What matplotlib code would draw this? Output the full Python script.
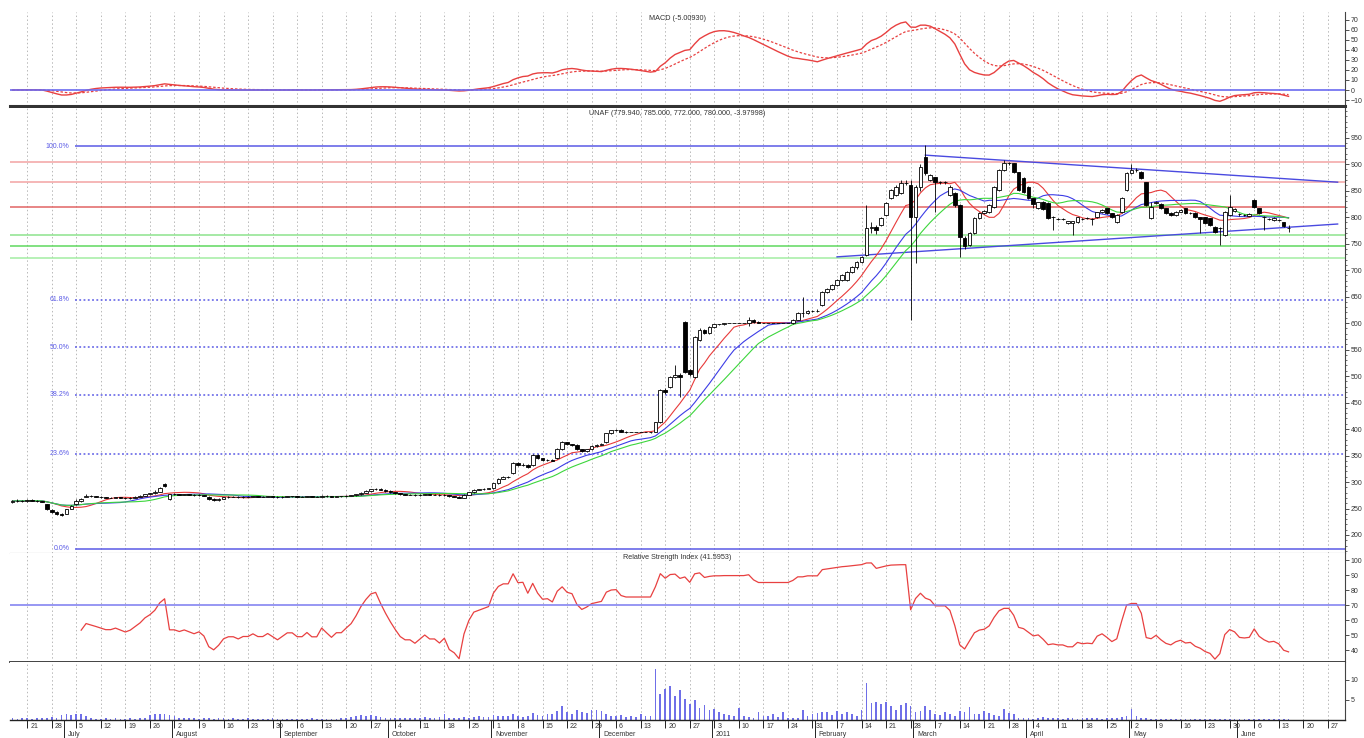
import numpy as np
import pandas as pd
import matplotlib
matplotlib.use("Agg")
import matplotlib.pyplot as plt
from matplotlib.transforms import blended_transform_factory
from matplotlib.ticker import MultipleLocator, FixedLocator

# ---------------- data ----------------
start_date = "2010-06-16"
n_axis_days = 272

opens = [262,265,265,264,266,265,264,258,248,244,
         240,240,250,258,264,272,274,273,272,271,
         270,270,271,270,269,270,272,274,277,279,
         282,296,268,277,277,276,277,276,275,276,
         272,268,266,268,271,272,272,271,272,272,
         273,272,272,273,272,271,272,273,273,272,
         272,273,272,272,274,273,272,273,273,274,
         275,277,280,283,286,287,285,283,281,279,
         277,276,276,275,276,277,276,276,275,276,
         273,272,270,276,281,285,286,287,288,298,
         306,310,317,336,332,333,332,351,345,341,
         342,345,362,375,371,370,362,358,362,368,
         370,375,392,398,399,395,394,394,394,394,
         394,394,413,474,479,498,502,602,511,498,
         568,587,581,592,598,598,600,600,600,600,
         600,606,602,600,600,600,600,600,600,600,
         606,619,619,623,623,634,658,665,672,681,
         681,696,705,715,728,779,781,785,804,836,
         842,845,864,860,800,857,913,870,875,866,
         866,842,845,823,760,747,770,798,808,809,
         819,851,889,902,902,885,874,857,836,817,
         828,826,800,797,797,789,789,790,797,798,
         797,800,809,817,807,790,809,851,883,889,
         885,866,798,826,825,817,808,804,810,817,
         807,808,800,800,798,781,779,766,804,812,
         806,804,803,832,817,801,797,794,794,790,779.94]
highs = [266,267,266,267,267,266,265,259,249,245,
         242,250,257,267,269,278,275,274,273,272,
         272,272,272,271,271,273,275,278,280,284,
         290,298,278,279,278,278,278,277,277,276,
         273,269,269,272,273,273,273,273,273,274,
         274,273,274,274,273,273,274,274,274,273,
         274,274,273,275,275,274,274,274,275,276,
         278,281,284,287,289,288,286,284,282,280,
         278,278,277,277,278,278,277,277,277,276,
         274,273,277,282,286,287,288,289,299,307,
         311,312,337,337,335,334,353,352,346,344,
         343,364,377,376,372,371,363,363,369,371,
         373,393,399,400,400,396,394,394,394,394,
         395,414,476,478,500,520,505,604,513,576,
         590,588,594,599,599,601,600,600,600,600,
         612,607,603,600,600,600,600,600,600,608,
         620,650,625,625,626,660,667,674,683,692,
         698,707,717,727,823,790,785,800,828,853,
         860,870,870,870,860,900,936,882,876,868,
         868,860,847,825,765,772,800,810,813,825,
         858,890,907,904,903,886,876,859,837,829,
         830,828,802,799,799,793,793,801,799,800,
         799,810,815,818,808,806,838,885,900,892,
         887,867,828,830,826,818,809,812,815,818,
         810,809,801,801,799,783,781,811,842,818,
         808,806,807,834,818,803,799,800,796,791,785]
lows = [261,263,263,263,264,263,262,248,241,238,
        236,239,249,257,263,271,272,271,269,269,
        269,269,269,268,268,269,271,273,276,278,
        281,291,266,275,275,275,275,274,274,273,
        266,264,265,267,270,271,270,270,271,271,
        271,271,271,271,270,270,271,272,271,271,
        271,271,271,271,272,271,271,272,272,273,
        274,276,279,282,284,284,282,280,278,276,
        275,275,274,274,275,275,275,274,274,272,
        271,269,270,275,280,284,285,286,287,297,
        305,308,316,330,331,327,331,344,340,340,
        339,344,360,369,368,360,356,357,361,367,
        369,374,391,396,394,393,394,394,394,394,
        393,394,412,466,478,497,460,505,500,497,
        566,579,580,591,596,597,600,600,600,600,
        594,601,600,600,600,600,600,600,600,599,
        605,612,617,620,621,633,656,663,670,679,
        680,694,703,713,726,770,768,783,802,834,
        840,843,860,606,713,850,880,868,809,862,
        862,840,820,725,740,745,768,796,805,807,
        817,849,887,898,883,849,845,834,818,815,
        813,796,775,795,795,787,766,789,795,796,
        785,799,808,806,799,789,808,850,881,886,
        872,821,796,824,815,806,802,803,809,805,
        805,798,770,787,783,770,747,764,803,810,
        803,802,802,817,805,775,795,793,792,781,772]
closes = [264,265,264,266,265,264,263,250,244,240,
          238,249,255,265,268,274,273,272,271,270,
          270,271,270,269,270,272,274,277,279,282,
          288,292,277,277,276,277,276,275,276,274,
          268,266,268,271,272,272,271,272,272,273,
          272,272,273,272,271,272,273,273,272,272,
          273,272,272,274,273,272,273,273,274,275,
          277,280,283,286,287,285,283,281,279,277,
          276,276,275,276,277,276,276,275,276,273,
          272,270,276,281,285,286,287,288,298,306,
          310,310,336,332,333,328,351,345,341,342,
          340,362,375,371,370,362,358,362,368,370,
          372,392,398,399,395,394,394,394,394,394,
          394,413,474,470,498,502,498,508,503,574,
          587,581,592,598,598,600,600,600,600,600,
          606,602,600,600,600,600,600,600,600,606,
          619,619,623,623,623,658,665,672,681,690,
          696,705,715,725,779,781,776,798,826,851,
          857,864,865,800,857,894,883,879,866,866,
          866,857,823,762,745,770,798,808,811,823,
          857,889,902,902,885,851,847,836,825,828,
          815,798,800,797,797,792,792,800,797,798,
          797,809,813,807,800,804,836,883,889,889,
          874,823,820,828,817,808,804,810,813,807,
          808,800,796,789,785,772,779,809,819,815,
          805,804,805,819,807,801,797,798,794,783,780]
volumes = [0.4,0.3,0.5,0.4,0.3,0.4,0.5,0.6,0.8,0.5,
           1.2,1.5,1.3,1.6,1.4,0.9,0.4,0.3,0.3,0.4,
           0.3,0.4,0.3,0.3,0.4,0.3,0.5,0.6,1.2,1.4,
           1.6,1.5,1.3,1.0,0.6,0.4,0.4,0.5,0.3,0.4,
           0.5,0.3,0.4,0.5,0.3,0.4,0.3,0.3,0.4,0.3,
           0.3,0.2,0.3,0.4,0.3,0.3,0.2,0.3,0.3,0.2,
           0.3,0.4,0.3,0.3,0.2,0.3,0.3,0.4,0.5,0.7,
           0.9,1.2,1.0,1.3,1.1,0.8,0.6,0.4,0.5,0.4,
           0.5,0.4,0.6,0.5,0.7,0.5,0.6,0.8,1.4,0.6,
           0.5,0.4,0.7,0.6,0.8,0.9,0.7,0.8,1.2,1.0,
           0.9,1.1,1.6,0.9,0.8,1.0,1.8,1.3,1.1,1.5,
           1.4,2.2,3.5,2.0,1.6,2.4,2.0,1.8,2.6,2.5,
           2.2,1.4,1.0,0.9,1.2,0.8,0.9,0.7,1.4,0.9,
           1.0,12.8,6.5,7.8,8.4,6.0,7.5,5.2,4.0,5.0,
           3.0,3.8,2.5,2.8,2.0,1.5,1.2,0.9,3.0,1.1,
           0.8,0.6,1.9,0.9,1.0,1.4,0.7,1.9,0.5,0.6,
           0.5,2.4,1.1,1.5,1.7,2.0,2.0,1.2,2.2,1.4,
           1.9,1.4,1.1,2.6,9.2,4.2,4.5,3.9,4.6,3.4,
           2.5,3.8,4.2,3.5,2.0,2.2,3.6,2.5,1.4,1.2,
           2.0,1.5,1.0,2.2,1.9,3.2,1.6,1.4,2.3,1.8,
           1.3,0.9,2.7,1.8,1.5,0.6,0.5,0.4,0.3,0.5,
           0.7,0.5,0.4,0.5,0.3,0.4,0.5,0.3,0.4,0.6,
           0.5,0.4,0.3,0.5,0.4,0.6,0.8,1.0,2.8,0.9,
           0.6,0.4,0.3,0.2,0.3,0.2,0.2,0.3,0.2,0.2,
           0.3,0.2,0.3,0.2,0.2,0.3,0.2,0.2,0.3,0.2,
           0.2,0.3,0.2,0.3,0.2,0.2,0.3,0.2,0.2,0.3,0.2]

fib_low, fib_high = 174, 934
fib_ratios = [0.0, 0.236, 0.382, 0.5, 0.618, 1.0]
fib_labels = ["0.0%", "23.6%", "38.2%", "50.0%", "61.8%", "100.0%"]
resistance_levels = [904, 866, 819]
support_levels = [766, 745, 723]
upper_trend_idx, upper_trend_px = [186, 270], [917, 866]
lower_trend_idx, lower_trend_px = [168, 270], [725, 787]
ma_periods = [9, 16, 21]
rsi_period = 14
month_names = {1: "2011", 2: "February", 3: "March", 4: "April", 5: "May", 6: "June",
               7: "July", 8: "August", 9: "September", 10: "October",
               11: "November", 12: "December"}
price_ticks = list(range(200, 1000, 50))
rsi_ticks = [40, 50, 60, 70, 80, 90, 100]
vol_ticks = [5, 10]
rsi_level = 70

macd_title = "MACD (-5.00930)"
price_title = "UNAF (779.940, 785.000, 772.000, 780.000, -3.97998)"
rsi_title = "Relative Strength Index (41.5953)"

# ---------------- derived ----------------
o = np.array(opens, float); h = np.array(highs, float)
l = np.array(lows, float); c = np.array(closes, float)
v = np.array(volumes, float)
n = len(c)
x = np.arange(n)
s = pd.Series(c)
mas = [s.rolling(p, min_periods=1).mean().values for p in ma_periods]
ema12 = s.ewm(span=12, adjust=False).mean()
ema26 = s.ewm(span=26, adjust=False).mean()
macd = (ema12 - ema26).values
signal = pd.Series(macd).ewm(span=9, adjust=False).mean().values

# Wilder RSI, seeded with a simple average
chg = np.diff(c)
gains = np.clip(chg, 0, None)
losses = np.clip(-chg, 0, None)
rsi = np.full(n, np.nan)
ag = gains[:rsi_period].mean()
al = losses[:rsi_period].mean()
rsi[rsi_period] = 100 - 100 / (1 + ag / al) if al > 0 else 100
for k in range(rsi_period, len(chg)):
    ag = (ag * (rsi_period - 1) + gains[k]) / rsi_period
    al = (al * (rsi_period - 1) + losses[k]) / rsi_period
    rsi[k + 1] = 100 - 100 / (1 + ag / al) if al > 0 else 100

dates = pd.bdate_range(start_date, periods=n_axis_days)
mondays = [i for i, dt in enumerate(dates) if dt.weekday() == 0]
month_starts = [i for i in range(1, n_axis_days - 4) if dates[i].month != dates[i - 1].month]

# ---------------- figure ----------------
plt.rcParams['font.family'] = ['Liberation Sans', 'DejaVu Sans']
W, H = 1364, 738
fig = plt.figure(figsize=(W / 100, H / 100), dpi=100)
fig.patch.set_facecolor('white')

def ax_at(top, bottom):
    return fig.add_axes([10 / W, 1 - bottom / H, 1335 / W, (bottom - top) / H])

ax_m = ax_at(12, 106)
ax_p = ax_at(108, 553)
ax_r = ax_at(553, 662)
ax_v = ax_at(662, 720)
axes = [ax_m, ax_p, ax_r, ax_v]

for ax in axes:
    ax.set_xlim(-0.5, n_axis_days - 0.5)
    ax.set_xticks(mondays)
    ax.tick_params(axis='x', which='both', length=0, labelbottom=False)
    ax.grid(axis='x', color='#b8b8b8', linestyle=(0, (1.5, 2.5)), linewidth=0.7)
    ax.set_axisbelow(True)
    ax.yaxis.tick_right()
    ax.tick_params(axis='y', which='major', direction='out', length=3, width=0.6,
                   labelsize=5, pad=1, colors='#333333')
    ax.tick_params(axis='y', which='minor', direction='out', length=1.5, width=0.5, colors='#333333')
    ax.spines['left'].set_visible(False)
    ax.spines['top'].set_visible(False)
    for k in ['right', 'bottom']:
        ax.spines[k].set_linewidth(0.8)
        ax.spines[k].set_color('#444444')

# MACD panel
ax_m.plot(x, macd, color='#e84040', linewidth=1.0)
ax_m.plot(x, signal, color='#e84040', linewidth=0.9, linestyle=(0, (2, 1.5)))
ax_m.axhline(0, color='#6b6bf0', linewidth=1.2)
mx = np.nanmax(macd)
ax_m.set_ylim(-0.235 * mx, 1.146 * mx)
ax_m.yaxis.set_major_locator(MultipleLocator(10))
ax_m.spines['bottom'].set_linewidth(2.2)
ax_m.spines['bottom'].set_color('#333333')
ax_m.text(0.5, 0.93, macd_title, transform=ax_m.transAxes, ha='center', va='center',
          fontsize=5.2, color='#333333')

# Price panel
ax_p.set_ylim(166, 1006)
ax_p.yaxis.set_major_locator(FixedLocator(price_ticks))
ax_p.yaxis.set_minor_locator(MultipleLocator(10))
for r, lab in zip(fib_ratios, fib_labels):
    lev = fib_low + r * (fib_high - fib_low)
    ls = '-' if r in (0.0, 1.0) else (0, (1.2, 1.6))
    ax_p.hlines(lev, 12.8, n_axis_days - 0.5, color='#5a5ae6', linewidth=1.1, linestyle=ls, zorder=2)
    ax_p.text(11.6, lev, lab, ha='right', va='center', fontsize=5, color='#5a5ae6')
for lev, col in zip(resistance_levels, ['#f3a3a3', '#f3a3a3', '#e26464']):
    ax_p.axhline(lev, color=col, linewidth=1.1, zorder=2)
for lev, col in zip(support_levels, ['#8de38d', '#5fd85f', '#a3eea3']):
    ax_p.axhline(lev, color=col, linewidth=1.1, zorder=2)
ax_p.plot(upper_trend_idx, upper_trend_px, color='#4a4ae0', linewidth=1.0, zorder=3)
ax_p.plot(lower_trend_idx, lower_trend_px, color='#4a4ae0', linewidth=1.0, zorder=3)
for m, col in zip(mas, ['#e83a3a', '#3c3ce6', '#3cd63c']):
    ax_p.plot(x, m, color=col, linewidth=0.8, zorder=4)
up = c >= o
ax_p.vlines(x, l, h, color='black', linewidth=0.6, zorder=5)
bb = np.minimum(o, c)
bh = np.abs(c - o)
ax_p.bar(x[up], bh[up], bottom=bb[up], width=0.75, facecolor='white', edgecolor='black',
         linewidth=0.6, zorder=6)
ax_p.bar(x[~up], bh[~up], bottom=bb[~up], width=0.75, facecolor='black', edgecolor='black',
         linewidth=0.6, zorder=6)
ax_p.text(0.5, 0.988, price_title, transform=ax_p.transAxes, ha='center', va='center',
          fontsize=5.2, color='#333333')
ax_p.spines['bottom'].set_color('#888888')

# RSI panel
ax_r.plot(x, rsi, color='#e84040', linewidth=0.9)
ax_r.axhline(rsi_level, color='#7b7bf0', linewidth=1.1)
ax_r.set_ylim(32, 104.7)
ax_r.yaxis.set_major_locator(FixedLocator(rsi_ticks))
ax_r.text(0.5, 0.96, rsi_title, transform=ax_r.transAxes, ha='center', va='center',
          fontsize=5.2, color='#333333')
ax_r.spines['bottom'].set_linewidth(1.3)
ax_r.spines['bottom'].set_color('#333333')

# Volume panel
ax_v.bar(x, v, width=0.35, color='#6f6fe8', linewidth=0)
ax_v.set_ylim(0, 14.5)
ax_v.yaxis.set_major_locator(FixedLocator(vol_ticks))
ax_v.tick_params(axis='x', which='major', length=6, width=0.7, direction='out', colors='#222222')
ax_v.spines['bottom'].set_linewidth(1.0)
ax_v.spines['bottom'].set_color('#222222')

# bottom date labels
tr = blended_transform_factory(ax_v.transData, fig.transFigure)
for i in mondays:
    ax_v.text(i + 0.6, 1 - 726.5 / H, str(dates[i].day), transform=tr, ha='left', va='center',
              fontsize=5, color='#333333', clip_on=False)
for i in month_starts:
    ax_v.plot([i - 0.5, i - 0.5], [0, 18 / H], transform=tr, color='#222222', linewidth=0.7,
              clip_on=False)
    ax_v.text(i + 0.3, 0.0, month_names[dates[i].month], transform=tr, ha='left', va='bottom',
              fontsize=5, color='#333333', clip_on=False)

fig.savefig("out.png", dpi=100, facecolor='white')
